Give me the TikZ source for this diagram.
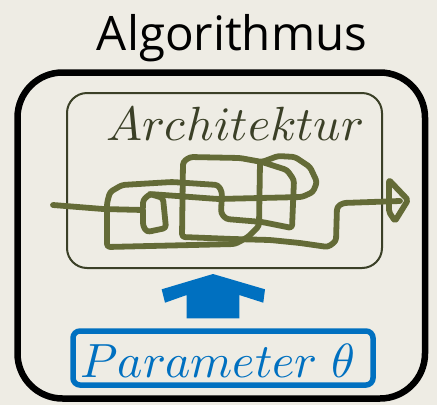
\documentclass[tikz,border=0pt]{standalone}
\usepackage{fontspec}
\usepackage{unicode-math}
\setmathfont{Latin Modern Math}
\newfontfamily\titlefont{Open Sans}
\definecolor{bg}{HTML}{EEECE4}
\definecolor{olive}{HTML}{646B37}
\definecolor{darkolive}{HTML}{3B4027}
\definecolor{blueA}{HTML}{0070C0}
\begin{document}
\begin{tikzpicture}[x=1pt,y=-1pt,
  scribble/.style={draw=olive, line width=5.8pt, line cap=round, line join=round, rounded corners=3pt},
  box/.style={draw, inner sep=0pt}]
\fill[bg] (0,0) rectangle (437,405);
\useasboundingbox (0,0) rectangle (437,405);
\node[font=\titlefont\fontsize{47.5}{50}\selectfont, anchor=base] (title) at (232,50) {Algorithmus};
\node[box, line width=6.5pt, minimum width=407.5pt, minimum height=326pt, rounded corners=45pt] (outer) at (221.25,235.5) {};
\node[box, draw=darkolive, line width=2pt, minimum width=315pt, minimum height=175pt, rounded corners=20pt] (arch) at (224.5,180.5) {};
\node[anchor=base, text=darkolive, font=\fontsize{48}{52}\selectfont] (archlabel) at (235,140) {$Architektur$};
\node[box, draw=blueA, line width=5.5pt, minimum width=300pt, minimum height=54pt, rounded corners=7pt] (param) at (223,358) {};
\node[anchor=base, text=blueA, font=\fontsize{48}{52}\selectfont] (paramlabel) at (217.5,377) {$Parameter\ \theta$};
% blue arrow
\fill[blueA] (213,274) -- (265,289.3) -- (263.3,302.7) -- (239.3,295) -- (239.3,318.3) -- (186.7,318.3) -- (186.7,295) -- (165,302.7) -- (161.7,289.3) -- cycle;
% scribble
\draw[scribble] (53,205) -- (103,209) -- (143,210) -- (143,200) -- (150,194) -- (218,199) -- (302,197) -- (313,192) -- (317,182) -- (310,167) -- (295,157) -- (278,156) -- (262,162) -- (240,158) -- (190,157) -- (183,162) -- (182,237) -- (233,239) -- (270,240) -- (300,243) -- (328,247) -- (336,241) -- (337,207) -- (343,203) -- (400,201);
\draw[scribble] (150,194) -- (163,198) -- (166,228) -- (147,232) -- (143,226) -- (143,210);
\draw[scribble] (262,162) -- (287,170) -- (294,180) -- (292,228) -- (262,222) -- (226,219) -- (221,213) -- (222,192) -- (218,185) -- (172,182) -- (122,185) -- (110,192) -- (107,203) -- (107,247) -- (235,244) -- (248,237) -- (259,226) -- (260,163);
\draw[scribble, rounded corners=2pt] (389,180) -- (408,200) -- (395,221) -- (389,212) -- cycle;
\end{tikzpicture}
\end{document}
